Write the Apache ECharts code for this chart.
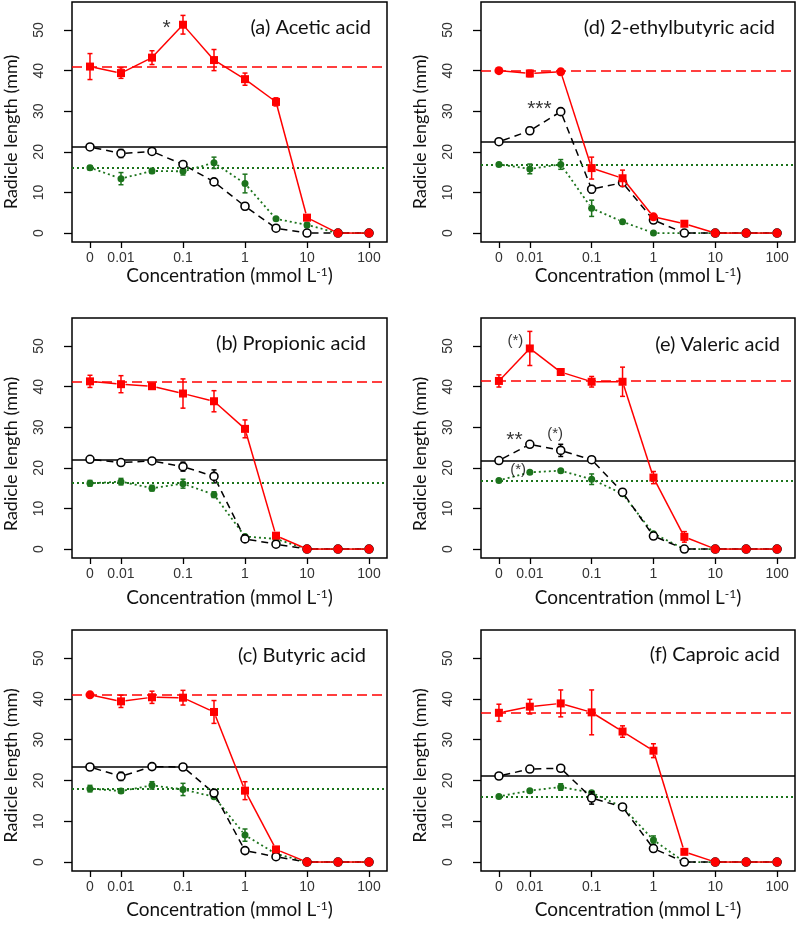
<!DOCTYPE html>
<html><head><meta charset="utf-8">
<script src="https://cdn.jsdelivr.net/npm/echarts@6/dist/echarts.min.js"></script>
<style>html,body{margin:0;padding:0;background:#fff}#c{width:797px;height:926px}</style>
</head><body><div id="c"></div>
<script>
// ---------- shared axis data ----------
const concentrations = ['0','0.01','0.03','0.1','0.3','1','3','10','30','100'];
const xTickIdx = [0,1,3,5,7,9];
const yTicks = [0,10,20,30,40,50];

// ---------- (a) Acetic acid ----------
const aTitle = '(a) Acetic acid';
const aRed      = [41.0, 39.4, 43.2, 51.3, 42.6, 37.9, 32.3, 3.8, 0, 0];
const aRedErr   = [3.2, 1.3, 1.7, 2.3, 2.6, 1.5, 1.0, 0, 0, 0];
const aBlack    = [21.2, 19.6, 20.1, 16.9, 12.6, 6.6, 1.2, 0, 0, 0];
const aBlackErr = [0.5, 1.0, 0.6, 0.5, 0.3, 0.8, 0.2, 0, 0, 0];
const aGreen    = [16.1, 13.4, 15.3, 15.2, 17.3, 12.2, 3.5, 2.0, 0, 0];
const aGreenErr = [0.5, 1.5, 0.6, 0.9, 1.4, 2.3, 0.2, 0.6, 0, 0];
const aControl  = [41.0, 21.2, 16.1];   // red, black, green
const aNotes    = [{x: 2.47, y: 50.5, text: '*'}];

// ---------- (d) 2-ethylbutyric acid ----------
const dTitle = '(d) 2-ethylbutyric acid';
const dRed      = [40.0, 39.3, 39.7, 16.0, 13.5, 4.0, 2.3, 0, 0, 0];
const dRedErr   = [0.6, 0.8, 0.7, 2.7, 2.0, 0.4, 0, 0, 0, 0];
const dBlack    = [22.5, 25.2, 29.9, 10.8, 12.4, 3.2, 0, 0, 0, 0];
const dBlackErr = [0.3, 0.8, 0.5, 0.9, 0.8, 0.5, 0, 0, 0, 0];
const dGreen    = [16.9, 15.8, 16.9, 6.1, 2.8, 0, 0, 0, 0, 0];
const dGreenErr = [0.3, 1.2, 1.2, 2.0, 0.3, 0, 0, 0, 0, 0];
const dControl  = [40.0, 22.5, 16.9];
const dNotes    = [{x: 1.31, y: 30.6, text: '***'}];

// ---------- (b) Propionic acid ----------
const bTitle = '(b) Propionic acid';
const bRed      = [41.3, 40.6, 40.1, 38.3, 36.4, 29.6, 3.3, 0, 0, 0];
const bRedErr   = [1.5, 2.1, 0.6, 3.6, 2.6, 2.2, 0, 0, 0, 0];
const bBlack    = [22.1, 21.3, 21.7, 20.3, 17.9, 2.5, 1.2, 0, 0, 0];
const bBlackErr = [0.3, 0.3, 0.4, 1.1, 1.6, 0.2, 0, 0, 0, 0];
const bGreen    = [16.2, 16.6, 15.0, 16.1, 13.4, 3.1, 2.5, 0, 0, 0];
const bGreenErr = [0.7, 0.8, 0.7, 1.1, 0.7, 0, 0, 0, 0, 0];
const bControl  = [41.3, 22.1, 16.3];
const bNotes    = [];

// ---------- (e) Valeric acid ----------
const eTitle = '(e) Valeric acid';
const eRed      = [41.4, 49.4, 43.6, 41.2, 41.2, 17.6, 3.0, 0, 0, 0];
const eRedErr   = [1.5, 4.2, 0.4, 1.3, 3.6, 1.5, 1.3, 0, 0, 0];
const eBlack    = [21.8, 25.8, 24.3, 22.0, 14.0, 3.2, 0, 0, 0, 0];
const eBlackErr = [0.2, 0.3, 1.5, 0.2, 0.7, 0.5, 0, 0, 0, 0];
const eGreen    = [16.9, 18.9, 19.3, 17.2, 13.6, 3.8, 0, 0, 0, 0];
const eGreenErr = [0, 0.4, 0.3, 1.3, 0.4, 0, 0, 0, 0, 0];
const eControl  = [41.5, 21.8, 16.9];
const eNotes    = [
  {x: 0.53, y: 51.2, text: '(*)'},
  {x: 0.50, y: 26.8, text: '**'},
  {x: 1.82, y: 28.3, text: '(*)'},
  {x: 0.62, y: 19.5, text: '(*)'}
];

// ---------- (c) Butyric acid ----------
const cTitle = '(c) Butyric acid';
const cRed      = [41.0, 39.4, 40.4, 40.3, 36.8, 17.5, 3.1, 0, 0, 0];
const cRedErr   = [0.6, 1.5, 1.5, 1.8, 2.8, 2.2, 0, 0, 0, 0];
const cBlack    = [23.3, 21.0, 23.4, 23.3, 16.9, 2.8, 1.3, 0, 0, 0];
const cBlackErr = [0.2, 1.0, 0.2, 0.2, 0.3, 0.2, 0, 0, 0, 0];
const cGreen    = [18.0, 17.4, 18.8, 17.8, 16.0, 6.6, 2.0, 0, 0, 0];
const cGreenErr = [0.8, 0.5, 0.9, 1.5, 0.3, 1.5, 0, 0, 0, 0];
const cControl  = [41.0, 23.3, 18.0];
const cNotes    = [];

// ---------- (f) Caproic acid ----------
const fTitle = '(f) Caproic acid';
const fRed      = [36.6, 38.1, 38.9, 36.7, 32.0, 27.3, 2.5, 0, 0, 0];
const fRedErr   = [2.1, 1.8, 3.3, 5.5, 1.4, 1.7, 0, 0, 0, 0];
const fBlack    = [21.1, 22.8, 23.0, 15.7, 13.5, 3.3, 0, 0, 0, 0];
const fBlackErr = [0.2, 0.2, 0.2, 1.5, 0.2, 0.3, 0, 0, 0, 0];
const fGreen    = [16.1, 17.5, 18.4, 17.0, 13.5, 5.4, 0, 0, 0, 0];
const fGreenErr = [0, 0.3, 0.8, 0.4, 0, 1.0, 0, 0, 0, 0];
const fControl  = [36.6, 21.2, 16.1];
const fNotes    = [];

const panels = [
  {title: aTitle, red: aRed, redErr: aRedErr, black: aBlack, blackErr: aBlackErr, green: aGreen, greenErr: aGreenErr, control: aControl, notes: aNotes},
  {title: dTitle, red: dRed, redErr: dRedErr, black: dBlack, blackErr: dBlackErr, green: dGreen, greenErr: dGreenErr, control: dControl, notes: dNotes},
  {title: bTitle, red: bRed, redErr: bRedErr, black: bBlack, blackErr: bBlackErr, green: bGreen, greenErr: bGreenErr, control: bControl, notes: bNotes},
  {title: eTitle, red: eRed, redErr: eRedErr, black: eBlack, blackErr: eBlackErr, green: eGreen, greenErr: eGreenErr, control: eControl, notes: eNotes},
  {title: cTitle, red: cRed, redErr: cRedErr, black: cBlack, blackErr: cBlackErr, green: cGreen, greenErr: cGreenErr, control: cControl, notes: cNotes},
  {title: fTitle, red: fRed, redErr: fRedErr, black: fBlack, blackErr: fBlackErr, green: fGreen, greenErr: fGreenErr, control: fControl, notes: fNotes}
];

// ---------- layout & style (not data) ----------
const layout = [
  {left: 72,  top: 2,   width: 315, height: 240, titleX: 371, titleY: 28,  xGap: 21, yShift: 10, redCircles: [8, 9]},
  {left: 481, top: 2,   width: 314, height: 240, titleX: 775, titleY: 28,  xGap: 21, yShift: 10, redCircles: [0, 2, 5, 7, 8, 9]},
  {left: 72,  top: 318, width: 315, height: 240, titleX: 366, titleY: 344, xGap: 30, yShift: 16, redCircles: [7, 8, 9]},
  {left: 481, top: 318, width: 314, height: 240, titleX: 780, titleY: 345, xGap: 30, yShift: 16, redCircles: [7, 8, 9]},
  {left: 72,  top: 630, width: 315, height: 241, titleX: 366, titleY: 656, xGap: 29, yShift: 15, redCircles: [0, 7, 8, 9]},
  {left: 481, top: 630, width: 314, height: 241, titleX: 780, titleY: 655, xGap: 29, yShift: 15, redCircles: [7, 8, 9]}
];
const RED = '#ff0000', BLACK = '#000000', GREEN = '#1c731c';
const TITLE_FONT = 'Lato';
const TICK_FONT = 'Liberation Sans';

function connector(color, dash, width, gap) {
  return function (params, api) {
    const p1 = api.coord([api.value(0), api.value(1)]);
    const p2 = api.coord([api.value(2), api.value(3)]);
    const dx = p2[0] - p1[0], dy = p2[1] - p1[1];
    const d = Math.hypot(dx, dy);
    if (d <= 2 * gap) return null;
    const ux = dx / d, uy = dy / d;
    return {
      type: 'line',
      shape: {x1: p1[0] + ux * gap, y1: p1[1] + uy * gap, x2: p2[0] - ux * gap, y2: p2[1] - uy * gap},
      style: {stroke: color, lineWidth: width, lineDash: dash, fill: null}
    };
  };
}
function errorBar(color, width) {
  return function (params, api) {
    const i = api.value(0), v = api.value(1), e = api.value(2);
    if (!(e > 0)) return null;
    const t = api.coord([i, v + e]), b = api.coord([i, v - e]);
    const w = 2.5;
    const st = {stroke: color, lineWidth: width};
    return {type: 'group', children: [
      {type: 'line', shape: {x1: t[0], y1: t[1], x2: b[0], y2: b[1]}, style: st},
      {type: 'line', shape: {x1: t[0] - w, y1: t[1], x2: t[0] + w, y2: t[1]}, style: st},
      {type: 'line', shape: {x1: b[0] - w, y1: b[1], x2: b[0] + w, y2: b[1]}, style: st}
    ]};
  };
}
const segs = vals => vals.slice(0, -1).map((v, i) => [i, v, i + 1, vals[i + 1]]);
const withErr = (vals, errs) => vals.map((v, i) => [i, v, errs[i]]);

const grid = [], xAxis = [], yAxis = [], series = [], graphic = [];
panels.forEach((p, k) => {
  const L = layout[k];
  grid.push({left: L.left, top: L.top, width: L.width, height: L.height, show: true,
             borderColor: '#000', borderWidth: 1.5, backgroundColor: 'transparent'});
  xAxis.push({
    type: 'value', gridIndex: k, min: -0.58, max: 9.58, position: 'bottom',
    axisLine: {show: false, onZero: false}, splitLine: {show: false},
    axisTick: {show: true, customValues: xTickIdx, length: 6, lineStyle: {color: '#000', width: 1.3}},
    axisLabel: {show: true, customValues: xTickIdx, formatter: v => concentrations[Math.round(v)],
                fontFamily: TICK_FONT, fontSize: 14, color: '#333', margin: 9},
    name: 'Concentration (mmol L{sup|-1})', nameLocation: 'middle', nameGap: L.xGap,
    nameTextStyle: {fontFamily: TITLE_FONT, fontSize: 19, color: '#111',
      rich: {sup: {fontFamily: TITLE_FONT, fontSize: 12, color: '#111', verticalAlign: 'top', padding: [0, 0, 7, 0]}}}
  });
  yAxis.push({
    type: 'value', gridIndex: k, min: -2.2, max: 56.9, position: 'left',
    axisLine: {show: false, onZero: false}, splitLine: {show: false},
    axisTick: {show: true, customValues: yTicks, length: 8, lineStyle: {color: '#000', width: 1.3}},
    axisLabel: {show: true, customValues: yTicks, rotate: 90, fontFamily: TICK_FONT, fontSize: 14, color: '#333', margin: 26},
    name: 'Radicle length (mm)', nameLocation: 'middle', nameRotate: 90, nameGap: 52,
    nameTextStyle: {fontFamily: TITLE_FONT, fontSize: 18, color: '#111', padding: [0, 2 * L.yShift, 0, 0]}
  });

  const refLine = (val, color, type, width) => ({
    silent: true, symbol: ['none', 'none'], label: {show: false},
    lineStyle: {color: color, type: type, width: width}, data: [{yAxis: val}]
  });
  const ax = {xAxisIndex: k, yAxisIndex: k};

  // green (dotted)
  series.push(Object.assign({type: 'custom', renderItem: connector(GREEN, [2, 3], 1.8, 4), data: segs(p.green), z: 2}, ax));
  series.push(Object.assign({type: 'custom', renderItem: errorBar(GREEN, 1.5), data: withErr(p.green, p.greenErr), z: 2}, ax));
  series.push(Object.assign({type: 'scatter', symbol: 'circle', symbolSize: 7, itemStyle: {color: GREEN, opacity: 1},
    data: p.green.map((v, i) => [i, v]), z: 3,
    markLine: refLine(p.control[2], GREEN, [2, 3], 1.8)}, ax));
  // black (dashed)
  series.push(Object.assign({type: 'custom', renderItem: connector(BLACK, [7, 5], 1.5, 4.5), data: segs(p.black), z: 4}, ax));
  series.push(Object.assign({type: 'custom', renderItem: errorBar(BLACK, 1.5), data: withErr(p.black, p.blackErr), z: 4}, ax));
  series.push(Object.assign({type: 'scatter', symbol: 'circle', symbolSize: 8,
    itemStyle: {color: '#fff', borderColor: BLACK, borderWidth: 1.6, opacity: 1},
    data: p.black.map((v, i) => [i, v]), z: 5,
    markLine: refLine(p.control[1], BLACK, 'solid', 1.5)}, ax));
  // red (solid)
  series.push(Object.assign({type: 'custom', renderItem: connector(RED, null, 1.5, 4.5), data: segs(p.red), z: 6}, ax));
  series.push(Object.assign({type: 'custom', renderItem: errorBar(RED, 1.5), data: withErr(p.red, p.redErr), z: 6}, ax));
  series.push(Object.assign({type: 'scatter',
    itemStyle: {color: RED, opacity: 1},
    data: p.red.map((v, i) => ({value: [i, v],
      symbol: L.redCircles.indexOf(i) >= 0 ? 'circle' : 'rect',
      symbolSize: L.redCircles.indexOf(i) >= 0 ? 9 : 8})), z: 7,
    markLine: refLine(p.control[0], RED, [10, 5], 1.5)}, ax));
  // significance notes
  if (p.notes.length) {
    series.push(Object.assign({type: 'scatter', symbol: 'circle', symbolSize: 1, silent: true,
      itemStyle: {color: 'rgba(0,0,0,0)'}, z: 8,
      data: p.notes.map(n => ({value: [n.x, n.y],
        label: {show: true, position: 'inside', formatter: n.text, fontFamily: TICK_FONT,
                fontSize: n.text.indexOf('(') >= 0 ? 15 : 21, color: '#000'}}))}, ax));
  }
  graphic.push({type: 'text', x: L.titleX, y: L.titleY, silent: true,
    style: {text: p.title, fontFamily: TITLE_FONT, fontSize: 20, fill: '#111', textAlign: 'right', textVerticalAlign: 'middle'}});
});

const chart = echarts.init(document.getElementById('c'), null, {renderer: 'canvas'});
chart.setOption({animation: false, backgroundColor: '#fff', grid, xAxis, yAxis, series, graphic});
</script>
</body></html>
